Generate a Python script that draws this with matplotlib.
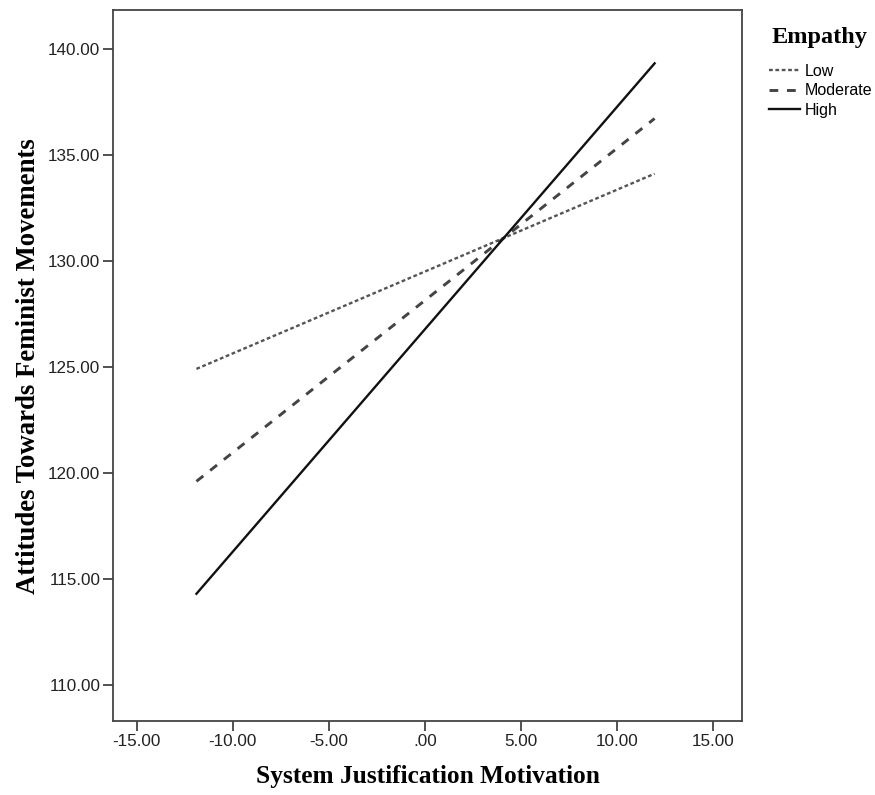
import matplotlib.pyplot as plt
from matplotlib.ticker import FuncFormatter

# simple slopes of attitudes on system justification, by empathy level
x_ends = [-11.9, 11.95]
low = [124.9, 134.1]
moderate = [119.6, 136.7]
high = [114.3, 139.3]

x_ticks = [-15, -10, -5, 0, 5, 10, 15]
y_ticks = [110, 115, 120, 125, 130, 135, 140]

fig = plt.figure(figsize=(8.75, 7.95), dpi=100)
ax = fig.add_axes([0.129, 0.093, 0.719, 0.894])

ax.plot(x_ends, low, color='#555555', lw=1.7, dashes=(1.6, 1.1), label='Low')
ax.plot(x_ends, moderate, color='#444444', lw=2.1, dashes=(3.0, 3.0), label='Moderate')
ax.plot(x_ends, high, color='#111111', lw=1.7, linestyle='-', label='High')

ax.set_xlim(-16.25, 16.5)
ax.set_ylim(108.3, 141.8)
ax.set_xticks(x_ticks)
ax.set_yticks(y_ticks)

def fmt(v, pos):
    s = '%.2f' % v
    if s.startswith('0'):
        s = s[1:]
    return s

ax.xaxis.set_major_formatter(FuncFormatter(fmt))
ax.yaxis.set_major_formatter(FuncFormatter(fmt))
ax.tick_params(direction='out', length=7, width=1.2, pad=2, colors='#333333', labelcolor='#222222')
for lab in ax.get_xticklabels() + ax.get_yticklabels():
    lab.set_fontfamily('Liberation Sans')
    lab.set_fontsize(12.3)
for sp in ax.spines.values():
    sp.set_linewidth(1.3)
    sp.set_color('#444444')

ax.set_xlabel('System Justification Motivation', fontfamily='Liberation Serif', fontweight='bold', fontsize=18.3, labelpad=12)
ax.set_ylabel('Attitudes Towards Feminist Movements', fontfamily='Liberation Serif', fontweight='bold', fontsize=19.3, labelpad=5)

# legend title drawn separately so the gap to the entries matches
fig.text(0.882, 0.953, 'Empathy', family='Liberation Serif', weight='bold', fontsize=17.5, va='center', ha='left')
leg = fig.legend(loc='upper left', bbox_to_anchor=(0.870, 0.930), frameon=False,
                 handlelength=1.95, handletextpad=0.25, labelspacing=0.28, borderpad=0,
                 prop={'family': 'Liberation Sans', 'size': 11.5})

plt.savefig('out.png', dpi=100)
